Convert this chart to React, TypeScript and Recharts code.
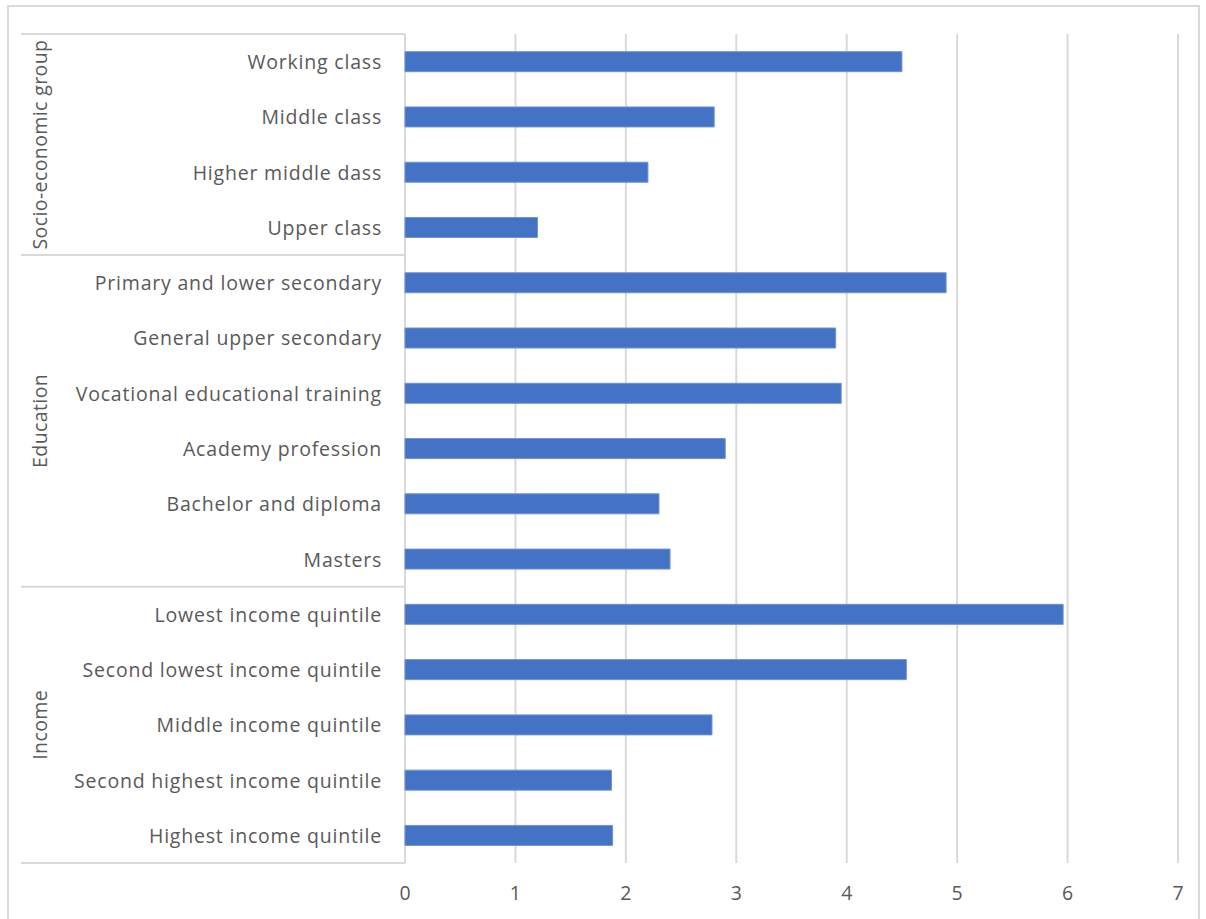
import React from 'react';
import { BarChart, Bar, XAxis, YAxis, CartesianGrid } from 'recharts';

const groupNames = ['Socio-economic group', 'Education', 'Income'];

const socioLabels = ['Working class', 'Middle class', 'Higher middle dass', 'Upper class'];
const socioValues = [4.5, 2.8, 2.2, 1.2];

const educationLabels = [
  'Primary and lower secondary',
  'General upper secondary',
  'Vocational educational training',
  'Academy profession',
  'Bachelor and diploma',
  'Masters',
];
const educationValues = [4.9, 3.9, 3.95, 2.9, 2.3, 2.4];

const incomeLabels = [
  'Lowest income quintile',
  'Second lowest income quintile',
  'Middle income quintile',
  'Second highest income quintile',
  'Highest income quintile',
];
const incomeValues = [5.96, 4.54, 2.78, 1.87, 1.88];

const xTicks = [0, 1, 2, 3, 4, 5, 6, 7];

const W = 1206;
const H = 919;
const M = { top: 34, right: 28, bottom: 16, left: 25 };
const Y_AXIS_W = 380;
const X_AXIS_H = 40;
const PLOT_LEFT = M.left + Y_AXIS_W;
const PLOT_H = H - M.top - M.bottom - X_AXIS_H;

const TEXT = '#595959';
const LINE = '#d9d9d9';
const FONT = '"Open Sans", sans-serif';
const FONT_SIZE = 19.5;

const sections = [
  { name: groupNames[0], labels: socioLabels, values: socioValues },
  { name: groupNames[1], labels: educationLabels, values: educationValues },
  { name: groupNames[2], labels: incomeLabels, values: incomeValues },
];

const rows = sections.flatMap((s, gi) =>
  s.labels.map((label, i) => ({
    label,
    value: s.values[i],
    group: gi,
    first: i === 0,
    size: s.labels.length,
  }))
);

const band = PLOT_H / rows.length;

// category label plus the group box lines and rotated group name
const GroupTick = (props: any) => {
  const { x, y, payload } = props;
  const row = rows[payload.index];
  const isLast = payload.index === rows.length - 1;
  const top = y - band / 2;
  const mid = top + (band * row.size) / 2;
  return (
    <g>
      <text
        x={x}
        y={y}
        textAnchor="end"
        dominantBaseline="central"
        fill={TEXT}
        fontSize={FONT_SIZE}
        fontFamily={FONT}
        letterSpacing={0.8}
      >
        {payload.value}
      </text>
      {row.first && (
        <>
          <line x1={21} x2={PLOT_LEFT} y1={top} y2={top} stroke={LINE} strokeWidth={2} />
          <text
            x={40}
            y={mid}
            transform={`rotate(-90, 40, ${mid})`}
            textAnchor="middle"
            dominantBaseline="central"
            fill={TEXT}
            fontSize={FONT_SIZE}
            fontFamily={FONT}
            letterSpacing={0.4}
          >
            {groupNames[row.group]}
          </text>
        </>
      )}
      {isLast && (
        <line x1={21} x2={PLOT_LEFT} y1={y + band / 2} y2={y + band / 2} stroke={LINE} strokeWidth={2} />
      )}
    </g>
  );
};

export default function App() {
  return (
    <div style={{ position: 'absolute', left: 0, top: 0, width: W, height: H, background: '#fff' }}>
      <div
        style={{
          position: 'absolute',
          left: 7,
          top: 5,
          width: 1193,
          height: 930,
          border: `2px solid ${LINE}`,
          boxSizing: 'border-box',
        }}
      />
      <div style={{ position: 'absolute', left: 0, top: 0 }}>
        <BarChart width={W} height={H} data={rows} layout="vertical" margin={M} barCategoryGap="32%">
          <CartesianGrid horizontal={false} stroke={LINE} strokeWidth={2} />
          <XAxis
            type="number"
            domain={[0, 7]}
            ticks={xTicks}
            height={X_AXIS_H}
            axisLine={false}
            tickLine={false}
            tickMargin={17}
            tick={{ fill: TEXT, fontSize: FONT_SIZE, fontFamily: FONT }}
          />
          <YAxis
            type="category"
            dataKey="label"
            width={Y_AXIS_W}
            axisLine={false}
            tickLine={false}
            tickMargin={17}
            interval={0}
            tick={<GroupTick />}
          />
          <Bar dataKey="value" fill="#4472C4" stroke="#6f93d6" strokeWidth={1} isAnimationActive={false} />
        </BarChart>
      </div>
    </div>
  );
}
